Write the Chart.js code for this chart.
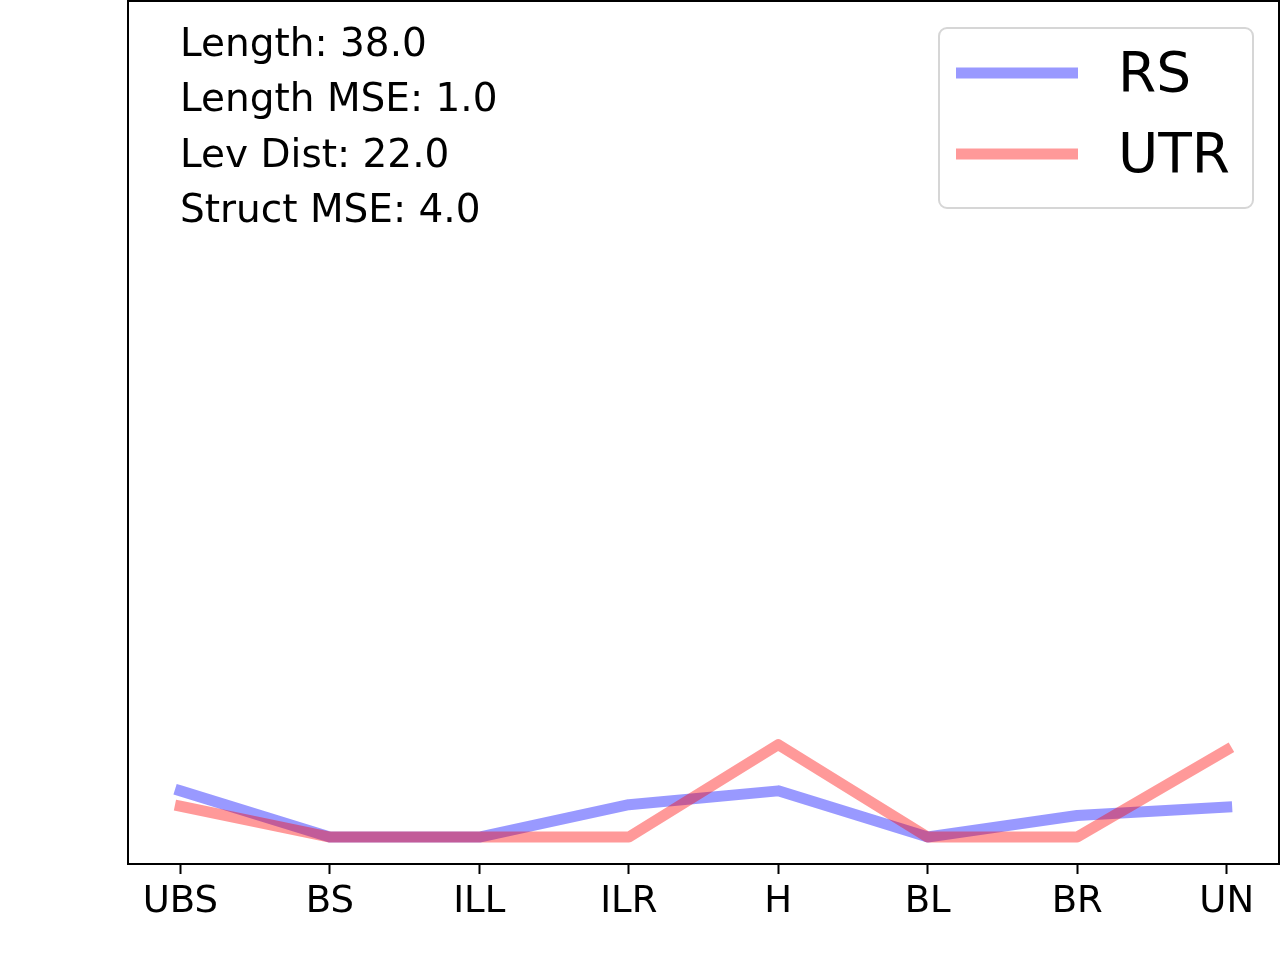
<!DOCTYPE html>
<html>
<head>
<meta charset="utf-8">
<script src="https://cdn.jsdelivr.net/npm/chart.js@4"></script>
<style>
  html, body { margin: 0; padding: 0; background: #fff; }
  canvas { display: block; }
</style>
</head>
<body>
<canvas id="chart" width="1280" height="960"></canvas>
<script>
const categories = ['UBS', 'BS', 'ILL', 'ILR', 'H', 'BL', 'BR', 'UN'];
const rsValues = [3.0, 0, 0, 2.1, 3.0, 0, 1.4, 1.95];
const utrValues = [2.0, 0, 0, 0, 6.0, 0, 0, 5.65];
const seriesNames = ['RS', 'UTR'];
const statLines = ['Length: 38.0', 'Length MSE: 1.0', 'Lev Dist: 22.0', 'Struct MSE: 4.0'];

const FONT = '"DejaVu Sans", sans-serif';
const rsColor = 'rgba(0,0,255,0.4)';
const utrColor = 'rgba(255,0,0,0.4)';

function pts(vals) {
    return vals.map((v, i) => ({x: i, y: v}));
}

// frame, text block and legend drawn like the matplotlib figure
const extras = {
    id: 'extras',
    afterDraw(chart) {
        const ctx = chart.ctx;
        const a = chart.chartArea;
        ctx.save();
        ctx.strokeStyle = '#000';
        ctx.lineWidth = 2;
        ctx.strokeRect(a.left, a.top, a.right - a.left, a.bottom - a.top);

        ctx.fillStyle = '#000';
        ctx.font = '39px ' + FONT;
        ctx.textBaseline = 'alphabetic';
        ctx.textAlign = 'left';
        statLines.forEach((t, i) => {
            ctx.fillText(t, a.left + 52, 56 + i * 55.3);
        });

        // legend box
        const bx = 939, by = 28, bw = 314, bh = 180;
        ctx.beginPath();
        ctx.roundRect(bx, by, bw, bh, 8);
        ctx.fillStyle = 'rgba(255,255,255,0.8)';
        ctx.fill();
        ctx.strokeStyle = '#d6d6d6';
        ctx.lineWidth = 2;
        ctx.stroke();

        const colors = [rsColor, utrColor];
        ctx.font = '55px ' + FONT;
        ctx.textBaseline = 'middle';
        seriesNames.forEach((name, i) => {
            const y = 73 + i * 81;
            ctx.beginPath();
            ctx.moveTo(956, y);
            ctx.lineTo(1078, y);
            ctx.strokeStyle = colors[i];
            ctx.lineWidth = 11;
            ctx.lineCap = 'butt';
            ctx.stroke();
            ctx.fillStyle = '#000';
            ctx.fillText(name, 1118, y + 4);
        });
        ctx.restore();
    }
};

new Chart(document.getElementById('chart'), {
    type: 'line',
    data: {
        datasets: [
            {
                label: seriesNames[0],
                data: pts(rsValues),
                borderColor: rsColor,
                borderWidth: 11,
                borderCapStyle: 'square',
                borderJoinStyle: 'round',
                pointRadius: 0,
                fill: false,
                tension: 0,
                order: 1
            },
            {
                label: seriesNames[1],
                data: pts(utrValues),
                borderColor: utrColor,
                borderWidth: 11,
                borderCapStyle: 'square',
                borderJoinStyle: 'round',
                pointRadius: 0,
                fill: false,
                tension: 0,
                order: 0
            }
        ]
    },
    options: {
        responsive: false,
        animation: false,
        devicePixelRatio: 1,
        layout: {
            padding: {left: 128, right: 1, top: 1, bottom: 0}
        },
        plugins: {
            legend: {display: false},
            tooltip: {enabled: false}
        },
        scales: {
            x: {
                type: 'linear',
                min: -0.35,
                max: 7.35,
                afterBuildTicks: (scale) => {
                    scale.ticks = categories.map((_, i) => ({value: i}));
                },
                afterFit: (scale) => {
                    scale.height = 96;
                },
                grid: {
                    display: true,
                    drawOnChartArea: false,
                    drawTicks: true,
                    tickLength: 10,
                    tickWidth: 2,
                    tickColor: '#000'
                },
                border: {display: true, color: '#000', width: 2},
                ticks: {
                    autoSkip: false,
                    maxRotation: 0,
                    padding: 6,
                    color: '#000',
                    font: {family: FONT, size: 37},
                    callback: (v) => categories[v]
                }
            },
            y: {
                display: false,
                min: -1.75,
                max: 54.3
            }
        }
    },
    plugins: [extras]
});
</script>
</body>
</html>
